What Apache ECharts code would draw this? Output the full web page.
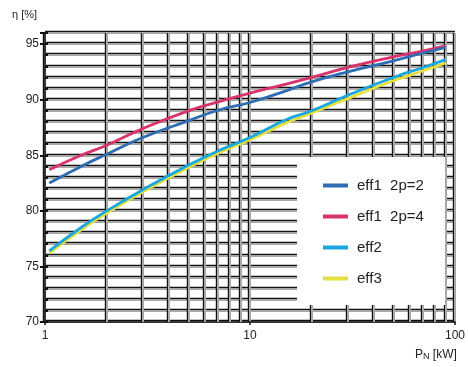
<!DOCTYPE html>
<html><head><meta charset="utf-8">
<script src="https://cdn.jsdelivr.net/npm/echarts@6/dist/echarts.min.js"></script>
<style>html,body{margin:0;padding:0;background:#fff}#c{width:468px;height:367px}</style>
</head><body><div id="c"></div>
<script>
const xValues = [1.05, 1.5, 2, 3, 5, 7, 10, 15, 20, 30, 50, 70, 90];
const eff1_2p2 = [82.5, 84.0, 85.1, 86.6, 88.1, 89.05, 89.75, 90.8, 91.6, 92.5, 93.5, 94.2, 94.7];
const eff1_2p4 = [83.7, 85.0, 85.9, 87.4, 89.0, 89.8, 90.6, 91.4, 92.0, 92.9, 93.85, 94.4, 94.85];
const eff2 = [76.4, 78.5, 80.0, 81.9, 84.1, 85.4, 86.6, 88.2, 89.0, 90.4, 92.0, 92.9, 93.6];
const eff3 = [76.2, 78.3, 79.8, 81.7, 83.9, 85.2, 86.4, 87.9, 88.8, 90.1, 91.7, 92.6, 93.3];
const seriesNames = ['eff1  2p=2', 'eff1  2p=4', 'eff2', 'eff3'];
const seriesColors = ['#2e6db4', '#d9336b', '#1aa6df', '#e4e03c'];
const minorX = [2, 3, 4, 5, 6, 7, 8, 9, 20, 30, 40, 50, 60, 70, 80, 90];
const yTickLabels = [70, 75, 80, 85, 90, 95];

const FONT = "'Liberation Sans', Arial, sans-serif";
const gridLineV = {color: '#a8a8a8', width: 2, shadowColor: '#111', shadowBlur: 0, shadowOffsetX: -1.2, type: 'solid'};
const gridLineH = {color: '#a8a8a8', width: 2, shadowColor: '#111', shadowBlur: 0, shadowOffsetY: -1.2, type: 'solid'};

const allData = [eff1_2p2, eff1_2p4, eff2, eff3];
const series = allData.map((arr, i) => ({
  name: seriesNames[i],
  type: 'line',
  smooth: true,
  symbol: 'none',
  yAxisIndex: 0,
  z: 3 + (i === 0 ? 1 : i === 1 ? 0 : i === 2 ? 2 : 1),
  lineStyle: {width: 2.8, color: seriesColors[i]},
  itemStyle: {color: seriesColors[i]},
  data: xValues.map((x, j) => [x, arr[j]])
}));
series[0].markLine = {
  silent: true, symbol: 'none', label: {show: false}, z: 1,
  lineStyle: gridLineV,
  data: minorX.map(v => ({xAxis: v}))
};
series[0].z = 4;

const chart = echarts.init(document.getElementById('c'), null, {renderer: 'canvas'});
chart.setOption({
  animation: false,
  textStyle: {fontFamily: FONT},
  grid: {left: 45, right: 10, top: 33, bottom: 45},
  xAxis: {
    type: 'log', logBase: 10, min: 1, max: 100,
    axisLine: {show: true, lineStyle: {color: '#111', width: 1.5}},
    axisTick: {show: true, length: 3, lineStyle: {color: '#111', width: 1.5}},
    axisLabel: {color: '#222', fontSize: 12, margin: 8, fontFamily: FONT},
    splitLine: {show: true, lineStyle: gridLineV},
    minorTick: {show: false}, minorSplitLine: {show: false}
  },
  yAxis: [{
    type: 'value', min: 70, max: 96, interval: 5,
    axisLine: {show: true, lineStyle: {color: '#111', width: 1.5}},
    axisTick: {show: true, length: 5, lineStyle: {color: '#111', width: 2}},
    axisLabel: {color: '#222', fontSize: 12, margin: 6, fontFamily: FONT,
      formatter: v => yTickLabels.indexOf(v) >= 0 ? String(v) : ''},
    splitLine: {show: true, lineStyle: {color: '#111', width: 1.2}}
  }, {
    type: 'value', min: 70, max: 96, interval: 1, position: 'left',
    axisLine: {show: false},
    axisTick: {show: true, inside: true, length: 3, lineStyle: {color: '#111', width: 2}},
    axisLabel: {show: false},
    splitLine: {show: true, lineStyle: gridLineH}
  }],
  legend: {
    orient: 'vertical', left: 318, top: 173, z: 100,
    itemWidth: 25, itemHeight: 4, itemGap: 16, icon: 'rect',
    textStyle: {fontSize: 15, color: '#222', fontFamily: FONT, padding: [0, 0, 0, 4]},
    data: seriesNames
  },
  graphic: [
    {type: 'rect', z: 50, shape: {x: 297, y: 157, width: 148, height: 148}, style: {fill: '#fff'}},
    {type: 'text', z: 60, left: 12, top: 9, style: {text: 'η [%]', font: '11px ' + FONT, fill: '#222'}},
    {type: 'text', z: 60, left: 415, top: 349, style: {
      text: '{p|P}{n|N} {p|[kW]}', font: '12px ' + FONT, fill: '#222',
      rich: {p: {fontSize: 12, fontFamily: FONT, fill: '#222'}, n: {fontSize: 9, fontFamily: FONT, fill: '#222', verticalAlign: 'bottom'}}
    }}
  ],
  series: series
});
</script></body></html>
